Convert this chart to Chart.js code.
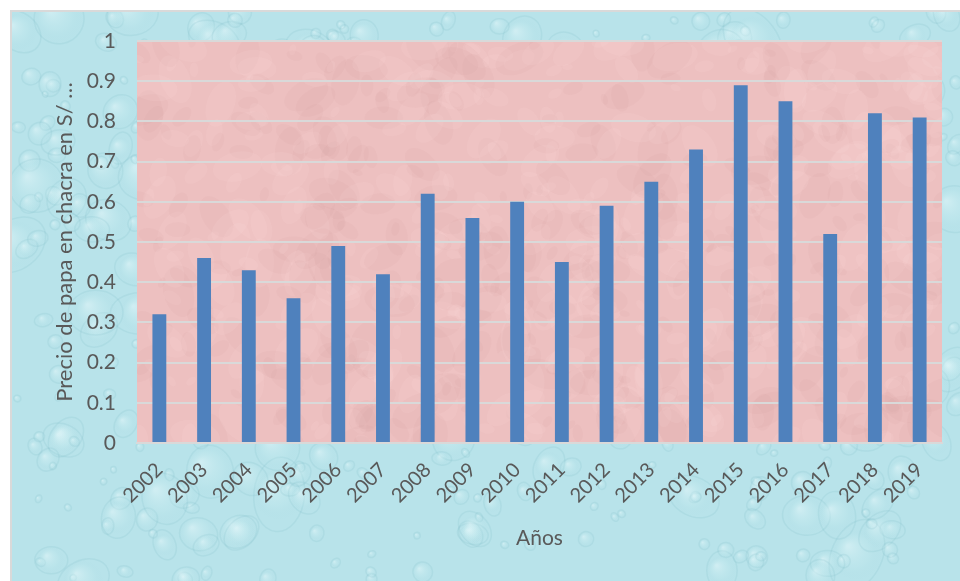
<!DOCTYPE html>
<html>
<head>
<meta charset="utf-8">
<script src="https://cdn.jsdelivr.net/npm/chart.js@4/dist/chart.umd.min.js"></script>
<style>
  html, body { margin: 0; padding: 0; background: #ffffff; }
  #wrap { width: 960px; height: 581px; position: relative; }
</style>
</head>
<body>
<div id="wrap"><canvas id="c" width="960" height="581"></canvas></div>
<script>
// Precio de papa en chacra (S/ por kg), 2002–2019
const years = ['2002','2003','2004','2005','2006','2007','2008','2009','2010',
               '2011','2012','2013','2014','2015','2016','2017','2018','2019'];
const prices = [0.32, 0.46, 0.43, 0.36, 0.49, 0.42, 0.62, 0.56, 0.60,
                0.45, 0.59, 0.65, 0.73, 0.89, 0.85, 0.52, 0.82, 0.81];
const yTicks = [0, 0.1, 0.2, 0.3, 0.4, 0.5, 0.6, 0.7, 0.8, 0.9, 1];

const xTitle = 'Años';
const yTitle = 'Precio de papa en chacra en S/ …';

const FONT = 'Lato, "Open Sans", sans-serif';
const TEXT = '#595959';

// small seeded generator for the water-drop texture
function lcg(seed) {
  let s = seed >>> 0;
  return () => { s = (s * 1664525 + 1013904223) >>> 0; return s / 4294967296; };
}

const backdrop = {
  id: 'backdrop',
  beforeDraw(chart) {
    const ctx = chart.ctx, W = chart.width, H = chart.height;
    ctx.save();
    ctx.fillStyle = '#ffffff';
    ctx.fillRect(0, 0, W, H);
    // frame
    ctx.fillStyle = '#d9d9d9';
    ctx.fillRect(10, 10, W - 10, H - 10);
    // water background
    const x0 = 12, y0 = 12, w = W - 12, h = H - 12;
    ctx.beginPath(); ctx.rect(x0, y0, w, h); ctx.clip();
    ctx.fillStyle = '#b8e3ea';
    ctx.fillRect(x0, y0, w, h);
    const rnd = lcg(7);
    for (let i = 0; i < 520; i++) {
      const cx = x0 + rnd() * w, cy = y0 + rnd() * h;
      const r = 3 + rnd() * rnd() * 28;
      const ry = r * (0.8 + rnd() * 0.7);
      const rot = rnd() * Math.PI;
      ctx.strokeStyle = 'rgba(125,188,200,0.18)';
      ctx.lineWidth = 1.5;
      ctx.beginPath();
      ctx.ellipse(cx, cy, r, ry, rot, 0, Math.PI * 2);
      ctx.stroke();
      const rg = ctx.createRadialGradient(cx - r * 0.35, cy - r * 0.35, r * 0.05, cx, cy, r);
      rg.addColorStop(0, 'rgba(235,250,252,0.45)');
      rg.addColorStop(0.6, 'rgba(200,236,240,0.2)');
      rg.addColorStop(1, 'rgba(160,210,220,0.0)');
      ctx.fillStyle = rg;
      ctx.beginPath();
      ctx.ellipse(cx, cy, r, ry, rot, 0, Math.PI * 2);
      ctx.fill();
    }
    // plot area
    const a = chart.chartArea;
    const pw = a.right - a.left, ph = a.bottom - a.top;
    ctx.beginPath();
    ctx.rect(a.left, a.top, pw, ph);
    ctx.clip();
    ctx.fillStyle = '#edc0c0';
    ctx.fillRect(a.left, a.top, pw, ph);
    const rnd2 = lcg(11);
    for (let i = 0; i < 700; i++) {
      const cx = a.left + rnd2() * pw;
      const cy = a.top + rnd2() * ph;
      const r = 3 + rnd2() * 12;
      ctx.fillStyle = rnd2() < 0.5 ? 'rgba(195,135,135,0.07)' : 'rgba(255,225,225,0.12)';
      ctx.beginPath();
      ctx.ellipse(cx, cy, r * 1.7, r, rnd2() * Math.PI, 0, Math.PI * 2);
      ctx.fill();
    }
    ctx.restore();
  }
};

new Chart(document.getElementById('c'), {
  type: 'bar',
  data: {
    labels: years,
    datasets: [{
      data: prices,
      backgroundColor: '#4f81bd',
      borderWidth: 0,
      categoryPercentage: 1,
      barPercentage: 0.31
    }]
  },
  options: {
    responsive: false,
    animation: false,
    devicePixelRatio: 1,
    layout: { padding: { left: 48, right: 18, top: 41, bottom: 26 } },
    plugins: {
      legend: { display: false },
      tooltip: { enabled: false }
    },
    scales: {
      x: {
        grid: { display: false, drawTicks: false },
        border: { display: true, color: '#d9d9d9', width: 2 },
        ticks: {
          color: TEXT,
          font: { family: FONT, size: 20 },
          minRotation: 45, maxRotation: 45,
          padding: 15
        },
        title: {
          display: true, text: xTitle, color: TEXT,
          font: { family: FONT, size: 21 },
          padding: { top: 4, bottom: 4 }
        },
        afterFit(s) { s.height = 112; }
      },
      y: {
        min: 0, max: 1,
        afterBuildTicks(s) { s.ticks = yTicks.map(v => ({ value: v })); },
        grid: { color: '#d9d9d9', lineWidth: 2, drawTicks: false },
        border: { display: false },
        ticks: {
          color: TEXT,
          font: { family: FONT, size: 21 },
          padding: 21,
          callback: v => String(v)
        },
        title: {
          display: true, text: yTitle, color: TEXT,
          font: { family: FONT, size: 22 },
          padding: { top: 4, bottom: 4 }
        },
        afterFit(s) { s.width = 89; }
      }
    }
  },
  plugins: [backdrop]
});
</script>
</body>
</html>
